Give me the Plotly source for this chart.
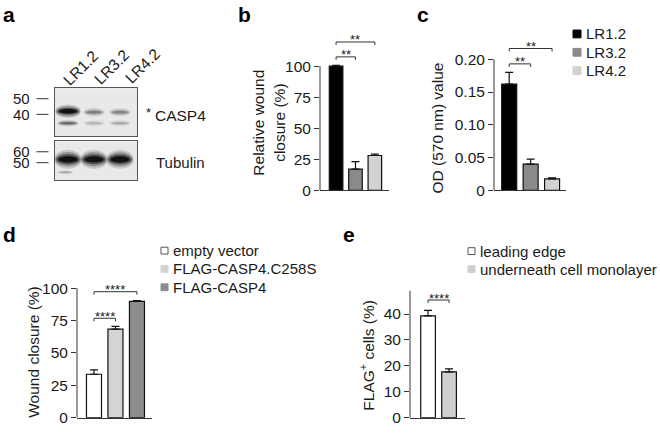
import plotly.graph_objects as go

FONT = "Liberation Sans, Arial, Helvetica, sans-serif"
W, H = 660, 433
AX = "#333333"
TXT = "#1a1a1a"

# ---- data ----
# a: western blot, relative band intensities per lane
blot_lanes = ["LR1.2", "LR3.2", "LR4.2"]
casp4_upper = [1.0, 0.33, 0.31]
casp4_lower = [0.42, 0.14, 0.17]
tubulin_band = [1.0, 0.97, 0.98]
tubulin_minor = [0.2, 0.0, 0.0]
mw_casp4 = ["50", "40"]
mw_tubulin = ["60", "50"]

# b: relative wound closure (%)
b_groups = ["LR1.2", "LR3.2", "LR4.2"]
b_mean = [100, 17, 28]
b_err = [0.6, 6, 1.1]
b_sig = [(0, 1, 107.5, "**"), (0, 2, 119.5, "**")]

# c: OD (570 nm)
c_groups = ["LR1.2", "LR3.2", "LR4.2"]
c_mean = [0.162, 0.040, 0.0175]
c_err = [0.018, 0.0075, 0.0015]
c_sig = [(0, 1, 0.193, "**"), (0, 2, 0.2165, "**")]

# d: wound closure (%)
d_groups = ["empty vector", "FLAG-CASP4.C258S", "FLAG-CASP4"]
d_mean = [33.5, 68.3, 89.8]
d_err = [3.4, 2.2, 0.6]
d_sig = [(0, 1, 76.7, "****"), (0, 2, 97.2, "****")]

# e: FLAG+ cells (%)
e_groups = ["leading edge", "underneath cell monolayer"]
e_mean = [39.3, 17.7]
e_err = [2.1, 1.1]
e_sig = [(0, 1, 45.4, "****")]

lr_colors = ["#000000", "#8a8a8a", "#d2d2d2"]
d_colors = ["#ffffff", "#d4d4d4", "#8c8c8c"]
e_colors = ["#ffffff", "#cfcfcf"]


def px(x, y):
    return x / W, 1 - y / H


fig = go.Figure()
shapes = []
annotations = []


def bar_panel(n, groups, mean, err, colors, sig, drop, ytop):
    xa = "x" if n == 1 else "x%d" % n
    ya = "y" if n == 1 else "y%d" % n
    fig.add_trace(go.Bar(
        x=groups, y=mean, xaxis=xa, yaxis=ya, width=0.7, showlegend=False,
        marker=dict(color=colors, line=dict(color="#111111", width=1.2)),
        error_y=dict(type="data", array=err, arrayminus=[0] * len(err),
                     symmetric=False, color="#111111", thickness=1.2, width=4),
    ))
    for i, j, h, lab in sig:
        fig.add_trace(go.Scatter(
            x=[groups[i], groups[i], groups[j], groups[j]],
            y=[h - drop, h, h, h - drop], xaxis=xa, yaxis=ya,
            mode="lines", line=dict(color=AX, width=1), showlegend=False,
            hoverinfo="skip"))
        annotations.append(dict(
            x=(i + j) / 2, y=h, xref=xa, yref=ya, text=lab, showarrow=False,
            yanchor="middle", yshift=2, font=dict(size=13, color=TXT)))
    # y axis line only up to the top tick
    shapes.append(dict(type="line", xref=xa + " domain", yref=ya,
                       x0=0, x1=0, y0=0, y1=ytop,
                       line=dict(color=AX, width=1)))


def legend(x0, rows_y, names, colors, size):
    for yy, name, col in zip(rows_y, names, colors):
        lx, ly = px(x0, yy)
        shapes.append(dict(type="rect", xref="paper", yref="paper",
                           x0=lx, x1=lx + size / W, y0=ly - size / 2 / H,
                           y1=ly + size / 2 / H, fillcolor=col,
                           line=dict(color="#555555" if col == "#ffffff" else col,
                                     width=1)))
        annotations.append(dict(x=lx + (size + 3) / W, y=ly, xref="paper",
                                yref="paper", text=name, showarrow=False,
                                xanchor="left", yanchor="middle",
                                font=dict(size=15, color=TXT)))


bar_panel(1, b_groups, b_mean, b_err, lr_colors, b_sig, 2.4, 100)
bar_panel(2, c_groups, c_mean, c_err, lr_colors, c_sig, 0.0045, 0.20)
bar_panel(3, d_groups, d_mean, d_err, d_colors, d_sig, 2.3, 100)
bar_panel(4, e_groups, e_mean, e_err, e_colors, e_sig, 1.15, 50)

legend(573, [32.7, 51.5, 70.3], c_groups, lr_colors, 8)
legend(161, [254.5, 273.3, 292], d_groups, d_colors, 7)
legend(468, [255, 273.5], e_groups, e_colors, 7)


# ---- blot (panel a) ----
def band(xa, ya, cx, cy, hw, hh, level):
    if level <= 0:
        return
    for sx, sy, op in [(1.18, 1.9, 0.15), (1.1, 1.45, 0.25),
                       (1.0, 1.0, 0.45), (0.82, 0.6, 0.8)]:
        shapes.append(dict(type="circle", xref=xa, yref=ya, layer="above",
                           x0=cx - hw * sx, x1=cx + hw * sx,
                           y0=cy - hh * sy, y1=cy + hh * sy,
                           fillcolor="black", opacity=min(1, op * level),
                           line=dict(width=0)))


for k in range(len(blot_lanes)):
    lane = k + 1
    v = casp4_upper[k]
    band("x5", "y5", lane, 0.49 + 0.03 * v, 0.33 + 0.09 * v, 0.04 + 0.035 * v, v)
    band("x5", "y5", lane, 0.27, 0.36, 0.04, casp4_lower[k])
    band("x6", "y6", lane, 0.54, 0.45, 0.13, tubulin_band[k])
    band("x6", "y6", lane - 0.1, 0.21, 0.27, 0.03, tubulin_minor[k])

for xa, ya in [("x5", "y5"), ("x6", "y6")]:
    shapes.append(dict(type="rect", xref=xa + " domain", yref=ya + " domain",
                       x0=0, x1=1, y0=0, y1=1, layer="below",
                       fillcolor="#e9e9e9", line=dict(width=0)))

# lane labels
for lab, (lx, ly) in zip(blot_lanes, [(80, 68), (111, 67), (142, 66)]):
    ax_, ay_ = px(lx, ly)
    annotations.append(dict(x=ax_, y=ay_, xref="paper", yref="paper", text=lab,
                            textangle=-45, showarrow=False, xanchor="center",
                            yanchor="middle", font=dict(size=15.5, color=TXT)))

# molecular weight markers
for lab, yy in zip(mw_casp4 + mw_tubulin, [99, 115, 153.3, 164.5]):
    ax_, ay_ = px(32, yy)
    annotations.append(dict(x=ax_, y=ay_, xref="paper", yref="paper", text=lab,
                            showarrow=False, xanchor="right", yanchor="middle",
                            font=dict(size=15, color=TXT)))
    shapes.append(dict(type="line", xref="paper", yref="paper",
                       x0=36.5 / W, x1=48.5 / W, y0=ay_, y1=ay_,
                       line=dict(color=AX, width=1)))

for txt, x, y, size, anchor in [("*", 148, 113, 13, "center"),
                                ("CASP4", 153, 116.5, 15.5, "left"),
                                ("Tubulin", 154, 164.3, 15, "left")]:
    ax_, ay_ = px(x, y)
    annotations.append(dict(x=ax_, y=ay_, xref="paper", yref="paper", text=txt,
                            showarrow=False, xanchor=anchor, yanchor="middle",
                            font=dict(size=size, color=TXT)))

# ---- panel letters and y titles ----
for lab, x, y in [("a", 1, 13), ("b", 236, 13), ("c", 415, 13),
                  ("d", 1, 237.5), ("e", 341, 237.5)]:
    ax_, ay_ = px(x, y)
    annotations.append(dict(x=ax_, y=ay_, xref="paper", yref="paper",
                            text="<b>%s</b>" % lab, showarrow=False,
                            xanchor="left", yanchor="middle",
                            font=dict(size=21, color="#000000")))

for txt, x, y in [("Relative wound<br>closure (%)", 268.5, 124),
                  ("OD (570 nm) value", 437.5, 129),
                  ("Wound closure (%)", 34, 358),
                  ("FLAG<sup>+</sup> cells (%)", 367.5, 361.5)]:
    ax_, ay_ = px(x, y)
    annotations.append(dict(x=ax_, y=ay_, xref="paper", yref="paper", text=txt,
                            textangle=-90, showarrow=False, xanchor="center",
                            yanchor="middle", font=dict(size=15.5, color=TXT)))


def xaxis(dom, rng, anchor):
    return dict(domain=dom, range=rng, anchor=anchor, type="category",
                showline=True, linecolor=AX, linewidth=1, ticks="",
                showticklabels=False, showgrid=False, zeroline=False,
                fixedrange=True)


def yaxis(dom, rng, anchor, vals, text):
    return dict(domain=dom, range=rng, anchor=anchor, showline=False,
                ticks="outside", ticklen=5, tickwidth=1, tickcolor=AX,
                tickvals=vals, ticktext=text, showgrid=False, zeroline=False,
                tickfont=dict(size=15.5, color=TXT), fixedrange=True)


def blot_axis(dom, rng, anchor):
    return dict(domain=dom, range=rng, anchor=anchor, showline=True, mirror=True,
                linecolor="#555555", linewidth=1, ticks="", showticklabels=False,
                showgrid=False, zeroline=False, fixedrange=True)


pct = [0, 25, 50, 75, 100]
fig.update_layout(
    width=W, height=H, margin=dict(l=0, r=0, t=0, b=0),
    paper_bgcolor="white", plot_bgcolor="white",
    font=dict(family=FONT, color=TXT), bargap=0.3,
    xaxis=xaxis([320 / W, 389 / W], [-0.83, 2.73], "y"),
    yaxis=yaxis([1 - 192.7 / H, 1 - 27.6 / H], [0, 130], "x",
                pct, [str(v) for v in pct]),
    xaxis2=xaxis([494 / W, 566 / W], [-0.71, 2.65], "y2"),
    yaxis2=yaxis([1 - 192.7 / H, 1 - 35.2 / H], [0, 0.235], "x2",
                 [0, 0.05, 0.10, 0.15, 0.20], ["0", "0.05", "0.10", "0.15", "0.20"]),
    xaxis3=xaxis([77 / W, 152 / W], [-0.79, 2.70], "y3"),
    yaxis3=yaxis([1 - 425.5 / H, 1 - 286.2 / H], [0, 105], "x3",
                 pct, [str(v) for v in pct]),
    xaxis4=xaxis([410 / W, 465 / W], [-0.86, 1.76], "y4"),
    yaxis4=yaxis([1 - 425.5 / H, 1 - 295.5 / H], [0, 49], "x4",
                 [0, 10, 20, 30, 40, 50], ["0", "10", "20", "30", "40", "50"]),
    xaxis5=blot_axis([55 / W, 137 / W], [0.5, 3.654], "y5"),
    yaxis5=blot_axis([1 - 137.3 / H, 1 - 88.3 / H], [0, 1], "x5"),
    xaxis6=blot_axis([55 / W, 137 / W], [0.5, 3.654], "y6"),
    yaxis6=blot_axis([1 - 182.7 / H, 1 - 142.7 / H], [0, 1], "x6"),
    shapes=shapes, annotations=annotations,
)

# the page body has a default 8px margin; drop it so the chart sits at 0,0
fig.write_html("out.html", config={"displayModeBar": False},
               post_script="document.body.style.margin='0';")
